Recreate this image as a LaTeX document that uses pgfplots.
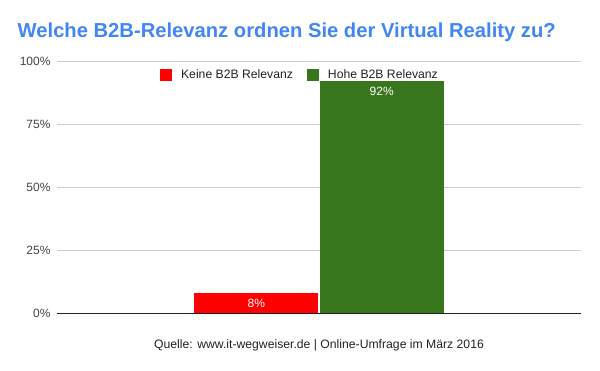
\documentclass[border=0pt]{standalone}
\usepackage{pgfplots}
\pgfplotsset{compat=1.18}
\usepackage{fontspec}
\setmainfont{Liberation Sans}
\definecolor{titleblue}{HTML}{4285F4}
\definecolor{barred}{HTML}{FF0000}
\definecolor{bargreen}{HTML}{38761D}
\definecolor{gridgray}{HTML}{CCCCCC}
\definecolor{txt}{HTML}{222222}
\definecolor{ticktxt}{HTML}{444444}
\begin{document}
\begin{tikzpicture}[x=1pt,y=1pt]
\path[use as bounding box] (0,0) rectangle (600,371);
\node[anchor=west, inner sep=0pt, text=titleblue, font=\fontsize{20.2}{24}\selectfont\bfseries] at (17.5,339) {Welche B2B-Relevanz ordnen Sie der Virtual Reality zu?};
\begin{axis}[
  at={(57pt,58pt)}, anchor=south west,
  scale only axis, width=524pt, height=252pt,
  xmin=-1, xmax=1, ymin=0, ymax=100,
  xtick=\empty,
  ytick={0,25,50,75,100},
  yticklabel={\pgfmathprintnumber{\tick}\%},
  /pgf/number format/assume math mode=true,
  yticklabel style={font=\fontsize{12}{14}\selectfont, text=ticktxt, xshift=-3pt},
  ymajorgrids, grid style={gridgray, line width=0.8pt},
  axis x line*=bottom, axis y line*=left,
  y axis line style={draw=none},
  x axis line style={draw=txt, line width=0.8pt, -},
  major tick length=0pt,
  ybar=1.5pt, bar width=124pt,
  nodes near coords={\pgfmathprintnumber{\pgfplotspointmeta}\%},
  nodes near coords style={anchor=center, yshift=-10.5pt, text=white, font=\fontsize{12}{14}\selectfont},
  legend columns=2,
  legend style={draw=none, fill=none, at={(0.4637,0.944)}, anchor=center,
    font=\fontsize{12.2}{14}\selectfont, text=txt,
    /tikz/every odd column/.append style={column sep=7pt},
    /tikz/every even column/.append style={column sep=12pt}},
  legend image code/.code={\fill[#1] (0pt,-6pt) rectangle (12pt,6pt);},
]
\addplot[fill=barred, draw=none] coordinates {(0,8)};
\addplot[fill=bargreen, draw=none] coordinates {(0,92)};
\legend{Keine B2B Relevanz, Hohe B2B Relevanz}
\end{axis}
\node[anchor=center, text=txt, font=\fontsize{12.2}{14}\selectfont] at (319,26) {Quelle: www.it-wegweiser.de | Online-Umfrage im März 2016};
\end{tikzpicture}
\end{document}
